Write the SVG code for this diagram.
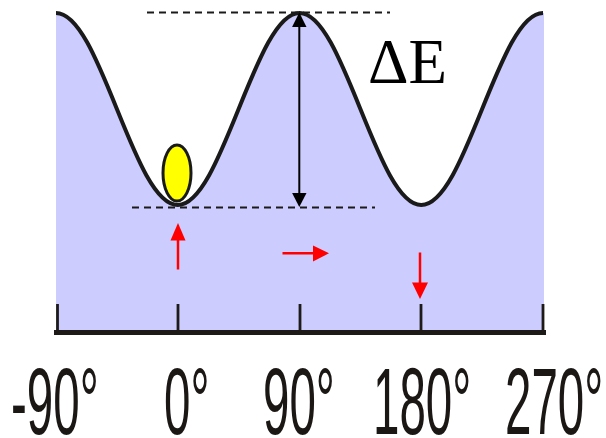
<svg xmlns="http://www.w3.org/2000/svg" width="606" height="438" viewBox="0 0 606 438">
<style>
.curve{fill:none;stroke:#1a1a1a;stroke-width:4;stroke-linejoin:round}
.dash{stroke:#1a1a1a;stroke-width:2;stroke-dasharray:7 5;fill:none}
.red{stroke:#ff0000;stroke-width:2.5;fill:none}
.redhead{fill:#ff0000}
.blk{fill:#000}
.lbl{font-family:"Liberation Sans",Arial,sans-serif;font-size:95px;fill:#1a1715}
.tick{stroke:#1e1a17;stroke-width:2.8}
</style>
<rect width="606" height="438" fill="#ffffff"/>
<g id="well">
<path fill="#ccccff" d="M56,13 C78.03,13 97.02,59.82 116.875,109 C136.73,158.18 155.72,205 177.75,205 C199.78,205 218.77,158.18 238.625,109 C258.48,59.82 277.47,13 299.5,13 C321.53,13 340.52,59.82 360.375,109 C380.23,158.18 399.22,205 421.25,205 C443.28,205 462.27,158.18 482.125,109 C501.98,59.82 520.97,13 543,13 L544,13 L544,333 L56,333 Z"/>
<path class="curve" d="M56,13 C78.03,13 97.02,59.82 116.875,109 C136.73,158.18 155.72,205 177.75,205 C199.78,205 218.77,158.18 238.625,109 C258.48,59.82 277.47,13 299.5,13 C321.53,13 340.52,59.82 360.375,109 C380.23,158.18 399.22,205 421.25,205 C443.28,205 462.27,158.18 482.125,109 C501.98,59.82 520.97,13 543,13"/>
</g>
<g id="axis">
<line x1="54" y1="332.5" x2="546" y2="332.5" stroke="#1e1a17" stroke-width="5"/>
<line class="tick" x1="57.5" y1="304" x2="57.5" y2="332"/>
<line class="tick" x1="178" y1="304" x2="178" y2="332"/>
<line class="tick" x1="300" y1="304" x2="300" y2="332"/>
<line class="tick" x1="421" y1="304" x2="421" y2="332"/>
<line class="tick" x1="543" y1="304" x2="543" y2="332"/>
</g>
<g id="ball">
<ellipse cx="177" cy="173" rx="14" ry="28" fill="#ffff00" stroke="#1a1a1a" stroke-width="3"/>
</g>
<g id="connectors">
<line class="dash" x1="147" y1="12.5" x2="390" y2="12.5"/>
<line class="dash" x1="132" y1="207.5" x2="375" y2="207.5"/>
<line x1="299.3" y1="24" x2="299.3" y2="196" stroke="#000" stroke-width="2"/>
<polygon class="blk" points="299.3,12.5 306.5,27 292.1,27"/>
<polygon class="blk" points="299.3,207 306.5,193 292.1,193"/>
<line class="red" x1="178" y1="269.5" x2="178" y2="238"/>
<polygon class="redhead" points="178,223 185.5,240.5 170.5,240.5"/>
<line class="red" x1="282.5" y1="253.3" x2="315" y2="253.3"/>
<polygon class="redhead" points="329,253.3 313,245.5 313,261.5"/>
<line class="red" x1="420" y1="252.5" x2="420" y2="285"/>
<polygon class="redhead" points="420,299 412,282.5 428,282.5"/>
</g>
<g id="deltaE">
<text x="368" y="83" font-family="'Liberation Serif','Times New Roman',serif" font-size="63" fill="#000">ΔE</text>
</g>
<g id="labels">
<text class="lbl" transform="translate(11,434) scale(0.5,1)">-90°</text>
<text class="lbl" transform="translate(164,434) scale(0.5,1)">0°</text>
<text class="lbl" transform="translate(263,434) scale(0.5,1)">90°</text>
<text class="lbl" transform="translate(373,434) scale(0.5,1)">180°</text>
<text class="lbl" transform="translate(505,434) scale(0.5,1)">270°</text>
</g>
</svg>
